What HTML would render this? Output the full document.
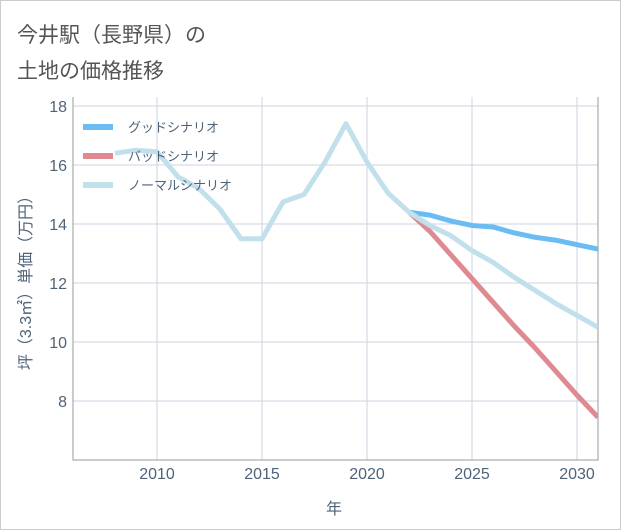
<!DOCTYPE html>
<html><head><meta charset="utf-8"><style>
body{margin:0;background:#fff;}
#c{position:relative;width:619px;height:528px;border:1px solid #ccc;font-family:"Liberation Sans","Noto Sans CJK JP",sans-serif;}
.t{position:absolute;left:16px;font-size:21px;color:#555;}
</style></head><body>
<div id="c">
<div class="t" style="top:18px">今井駅（長野県）の</div>
<div class="t" style="top:54px">土地の価格推移</div>
<svg id="s" width="619" height="528" style="position:absolute;left:0;top:0"></svg>
</div>
<script>
const years=[2008,2009,2010,2011,2012,2013,2014,2015,2016,2017,2018,2019,2020,2021,2022,2023,2024,2025,2026,2027,2028,2029,2030,2031];
const normal=[16.4,16.5,16.45,15.6,15.2,14.5,13.5,13.5,14.75,15.0,16.1,17.4,16.1,15.05,14.4,13.95,13.6,13.1,12.7,12.2,11.75,11.3,10.9,10.5];
const goodYears=[2022,2023,2024,2025,2026,2027,2028,2029,2030,2031];
const good=[14.4,14.3,14.1,13.95,13.9,13.7,13.55,13.45,13.3,13.15];
const bad=[14.4,13.75,12.95,12.15,11.35,10.55,9.8,9.0,8.2,7.45];
const xTicks=[2010,2015,2020,2025,2030];
const yTicks=[8,10,12,14,16,18];
const X=y=>156+(y-2010)*21, Y=v=>400-(v-8)*29.5;
const L=72,R=597,T=96,B=459;
const TC='#4f6378';
const s=document.getElementById('s');const NS='http://www.w3.org/2000/svg';
function el(t,a,p){const e=document.createElementNS(NS,t);for(const k in a)e.setAttribute(k,a[k]);(p||s).appendChild(e);return e;}
let g=el('g',{});


xTicks.forEach(t=>{const l=el('line',{x1:X(t),x2:X(t),y1:T,y2:B,stroke:'#ccd6e0'},g);


const tx=el('text',{x:X(t),y:478,'text-anchor':'middle','font-size':16,fill:TC});tx.textContent=t;

});
yTicks.forEach(t=>{const l=el('line',{x1:L,x2:R,y1:Y(t),y2:Y(t),stroke:'#ccd6e0'},g);


const tx=el('text',{x:66,y:Y(t)+6,'text-anchor':'end','font-size':16,fill:TC});tx.textContent=t;

});
const ax=el('path',{d:`M${L},${T}V${B}H${R}V${T}`,fill:'none',stroke:'#999'});


function line(xs,vs,c,n){const p=el('polyline',{points:xs.map((y,i)=>X(y)+','+Y(vs[i])).join(' '),fill:'none',stroke:c,'stroke-width':5,'stroke-linejoin':'round'});

}
const cp=el('clipPath',{id:'cp'});el('rect',{x:L,y:T,width:R-L,height:B-T},cp);
line(goodYears,good,'#6bbcf2','good-scenario-line');
line(goodYears,bad,'#de8a90','bad-scenario-line');
line(years,normal,'#c2e0ec','normal-scenario-line');
s.querySelectorAll('polyline').forEach(p=>p.setAttribute('clip-path','url(#cp)'));
[['グッドシナリオ','#6bbcf2'],['バッドシナリオ','#de8a90'],['ノーマルシナリオ','#c2e0ec']].forEach((e,i)=>{
const y=126+i*29;const r=el('rect',{x:82,y:y-3,width:30,height:6,fill:e[1]});


const t=el('text',{x:127,y:y+5,'font-size':13,fill:TC});t.textContent=e[0];

});
const xt=el('text',{x:333,y:513,'text-anchor':'middle','font-size':16,fill:TC});xt.textContent='年';


const yt=el('text',{x:0,y:0,'text-anchor':'middle','font-size':16,fill:TC,transform:'translate(30,278) rotate(-90)'});yt.textContent='坪（3.3㎡）単価（万円）';


</script>
</body></html>
